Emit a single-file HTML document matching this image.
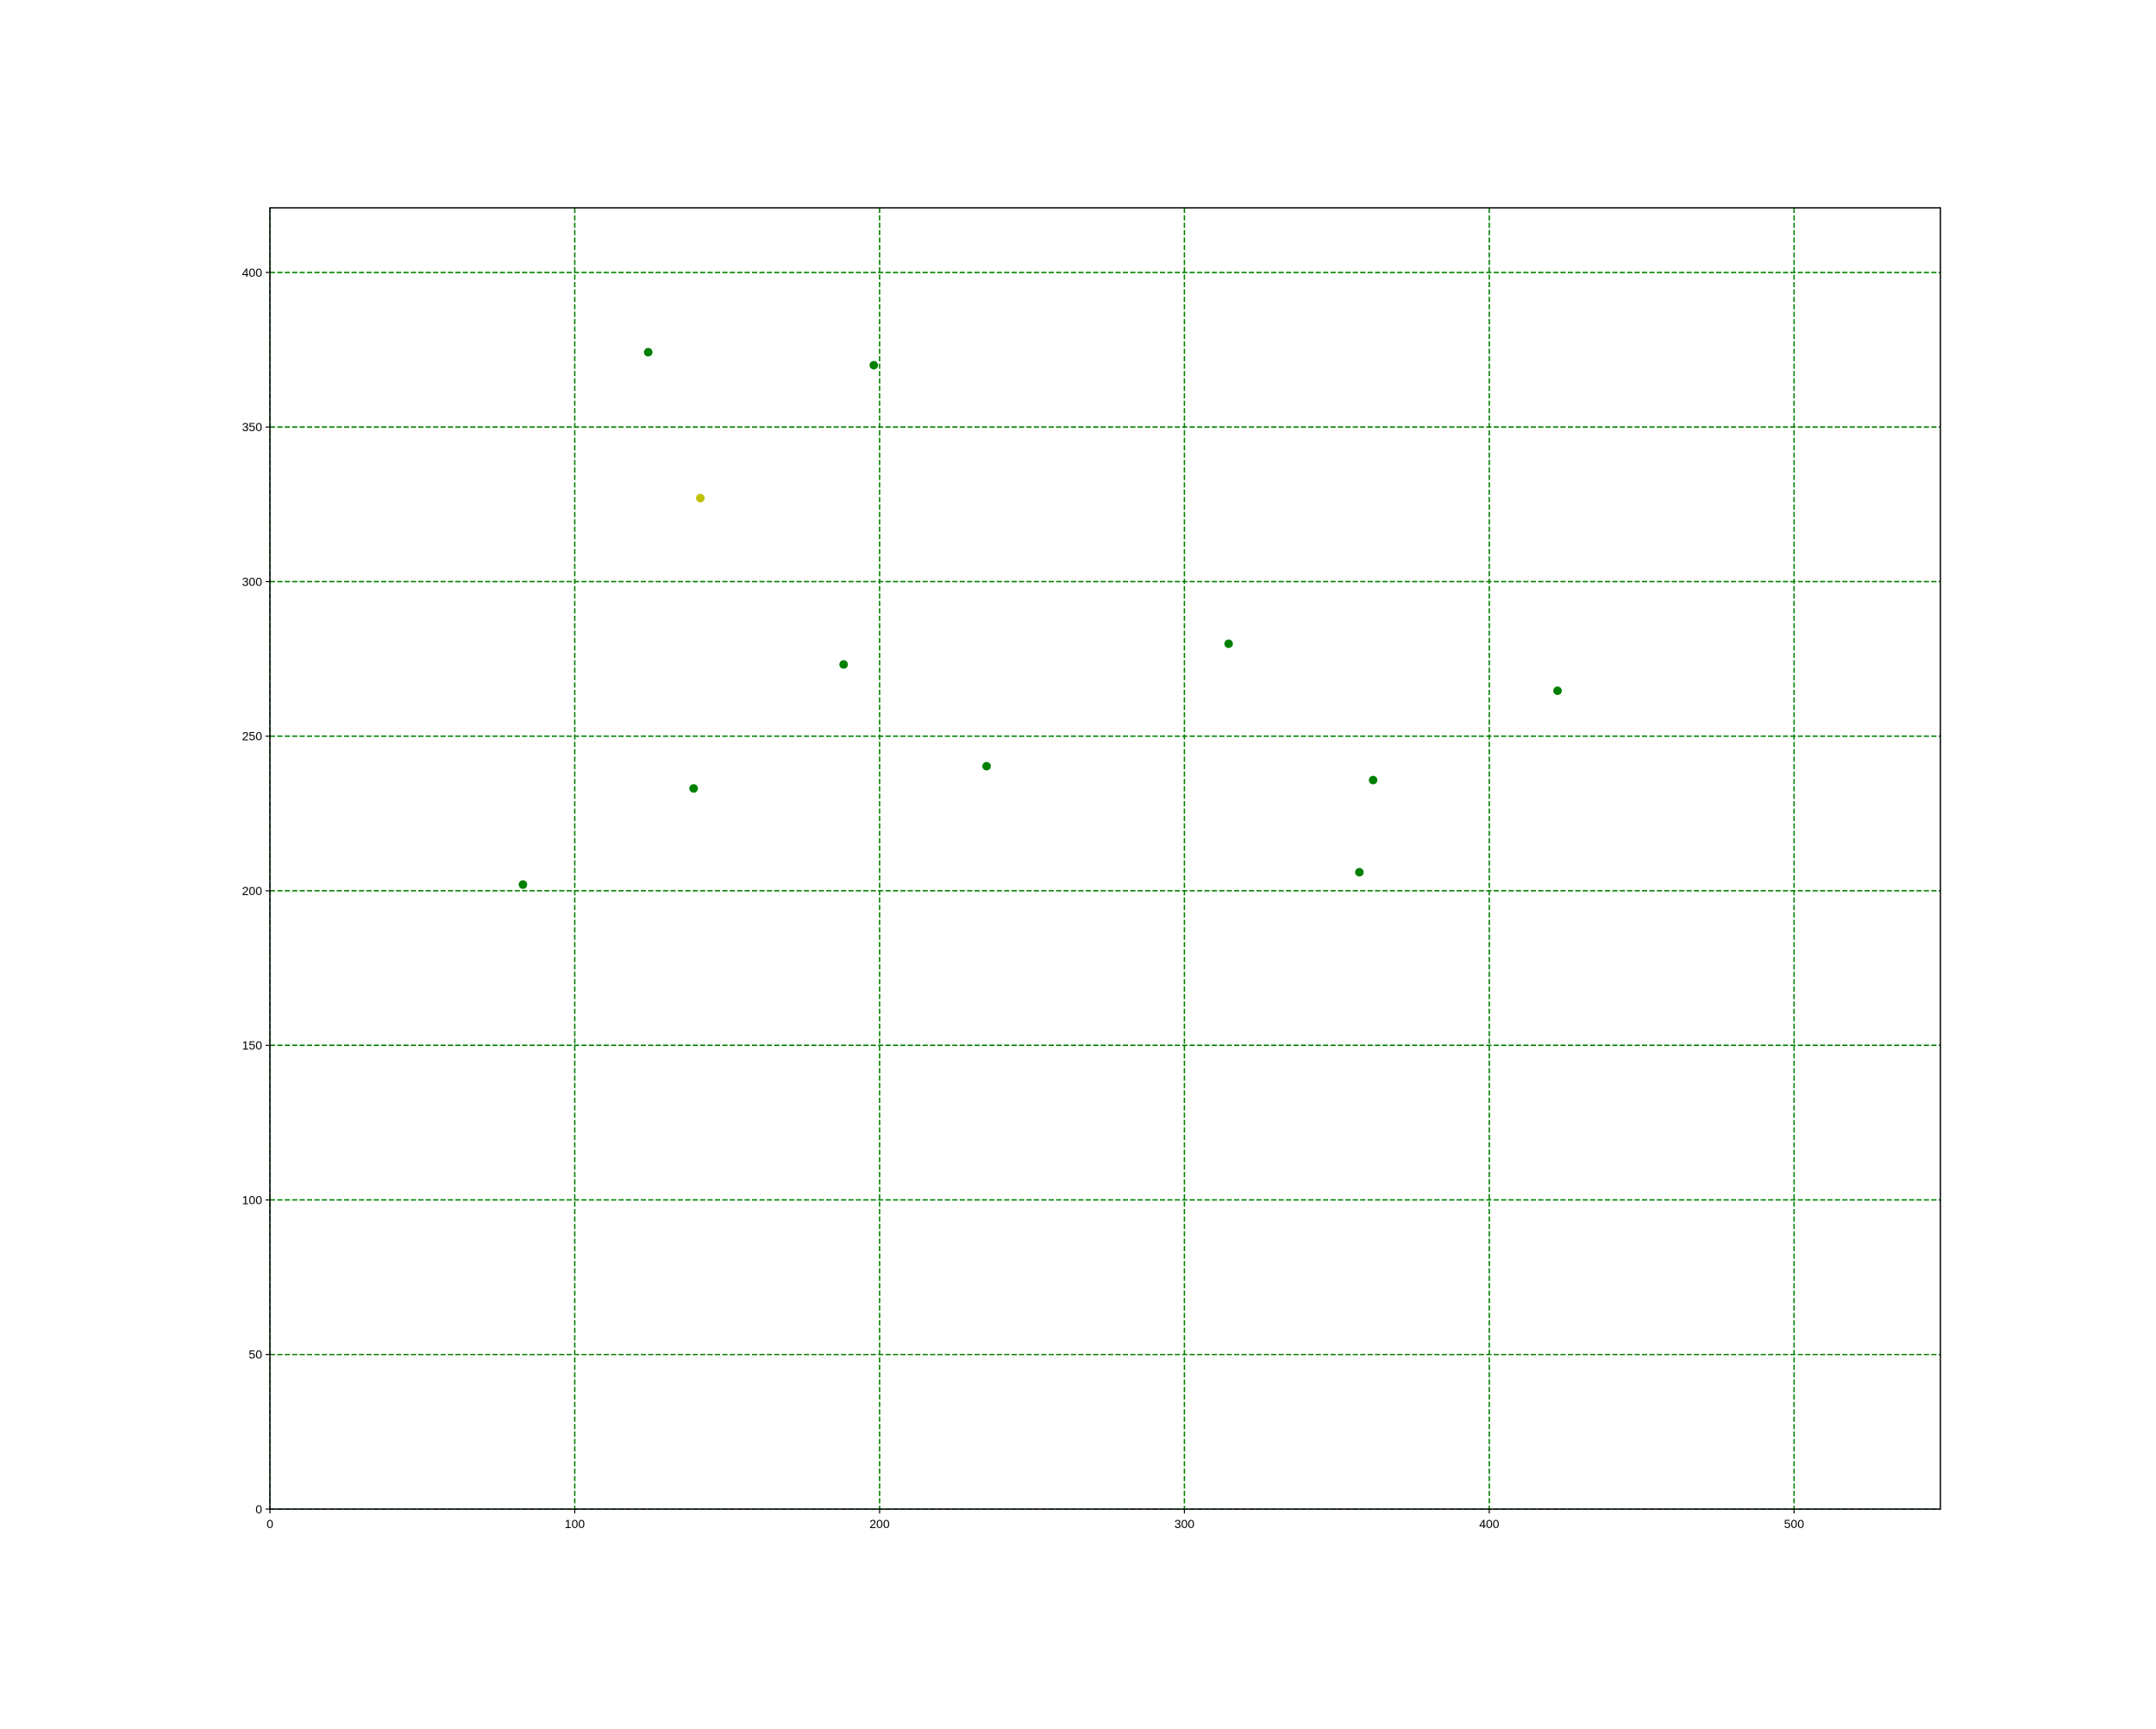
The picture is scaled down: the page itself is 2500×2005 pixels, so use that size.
<!DOCTYPE html>
<html><head><meta charset="utf-8"><style>
html,body{margin:0;padding:0;background:#fff;}
svg text{font-family:"Liberation Sans","DejaVu Sans",sans-serif;font-size:14px;fill:#000;}
</style></head><body>
<svg id="chart" width="2500" height="2000" xmlns="http://www.w3.org/2000/svg">
<rect width="2500" height="2000" fill="#fff"/>
<g id="grid"></g>
<g id="points"></g>
<rect x="313" y="241" width="1937" height="1509" fill="none" stroke="#000" stroke-width="1.5"/>
<g id="ticks"></g>
</svg>
<script>
const xValues = [124.1, 198.1, 141.2, 188.2, 139, 83, 235.1, 314.5, 422.4, 361.9, 357.4];
const yValues = [374.2, 370, 327, 273.2, 233.1, 202, 240.3, 279.9, 264.7, 235.8, 206];
const pointColors = ['#008000','#008000','#bfbf00','#008000','#008000','#008000','#008000','#008000','#008000','#008000','#008000'];
const xTicks = [0, 100, 200, 300, 400, 500];
const yTicks = [0, 50, 100, 150, 200, 250, 300, 350, 400];
const xMin = 0, xMax = 548, yMin = 0, yMax = 420.9;

const L = 313, R = 2250, T = 241, B = 1750;
const NS = 'http://www.w3.org/2000/svg';
function sx(v){ return L + (v - xMin) / (xMax - xMin) * (R - L); }
function sy(v){ return B - (v - yMin) / (yMax - yMin) * (B - T); }
function mk(tag, attrs){ const e = document.createElementNS(NS, tag); for (const k in attrs) e.setAttribute(k, attrs[k]); return e; }

const grid = document.getElementById('grid');
const ticks = document.getElementById('ticks');
const pts = document.getElementById('points');

xTicks.forEach(v => {
  const x = sx(v);
  const g = mk('line', {x1:x, x2:x, y1:T, y2:B, stroke:'#008000', 'stroke-width':1.6, 'stroke-dasharray':'6,2.6'});
  
  
  grid.appendChild(g);
  const t = mk('line', {x1:x, x2:x, y1:B, y2:B+5, stroke:'#000', 'stroke-width':1.2});
  
  
  ticks.appendChild(t);
  const lab = mk('text', {x:x, y:B+22, 'text-anchor':'middle'});
  lab.textContent = v;
  
  
  ticks.appendChild(lab);
});
yTicks.forEach(v => {
  const y = sy(v);
  const g = mk('line', {x1:L, x2:R, y1:y, y2:y, stroke:'#008000', 'stroke-width':1.6, 'stroke-dasharray':'6,2.6'});
  
  
  grid.appendChild(g);
  const t = mk('line', {x1:L-5, x2:L, y1:y, y2:y, stroke:'#000', 'stroke-width':1.2});
  
  
  ticks.appendChild(t);
  const lab = mk('text', {x:L-9, y:y+5, 'text-anchor':'end'});
  lab.textContent = v;
  
  
  ticks.appendChild(lab);
});
xValues.forEach((xv, i) => {
  const c = mk('circle', {cx:sx(xv), cy:sy(yValues[i]), r:5, fill:pointColors[i]});
  
  
  pts.appendChild(c);
});
</script>
</body></html>
